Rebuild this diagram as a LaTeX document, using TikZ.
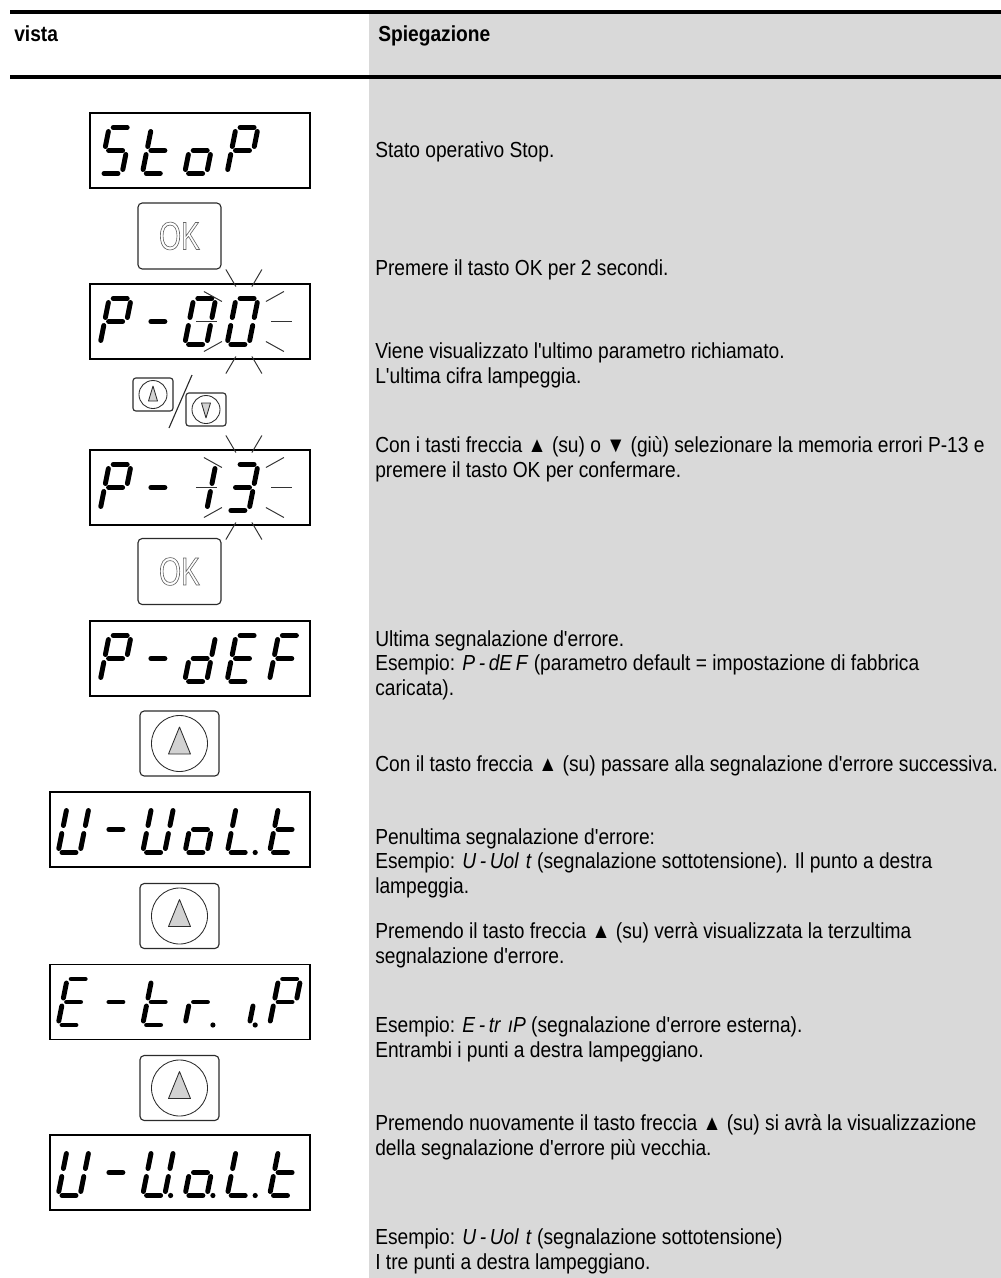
\documentclass[tikz,border=0pt]{standalone}
\usepackage{fontspec}
\setmainfont{Liberation Sans}[FakeStretch=0.88, Ligatures=TeXOff]
\newfontfamily\keyfont{Liberation Sans}[FakeStretch=0.72]
\usetikzlibrary{positioning}
\definecolor{colgray}{HTML}{D9D9D9}
\definecolor{tipgray}{HTML}{D2D2D2}
\definecolor{keyline}{HTML}{2B2B2B}
\definecolor{raygray}{HTML}{333333}

% seven-segment bars, local cell 0..22 wide, 0..46 high
\def\segA{4/46/18/46}
\def\segB{22/42/22/27}
\def\segC{22/19/22/4}
\def\segD{4/0/18/0}
\def\segE{0/4/0/19}
\def\segF{0/27/0/42}
\def\segG{4/23/18/23}

% characters as lists of bars
\newcommand{\defchar}[2]{\expandafter\def\csname lcd#1\endcsname{#2}}
\defchar{S}{A,F,G,C,D}
\defchar{t}{F,E,G,D}
\defchar{o}{G,C,D,E}
\defchar{P}{A,B,F,G,E}
\defchar{-}{G}
\defchar{0}{A,B,C,D,E,F}
\defchar{1}{B,C}
\defchar{3}{A,B,G,C,D}
\defchar{d}{B,C,D,E,G}
\defchar{E}{A,F,G,E,D}
\defchar{F}{A,F,G,E}
\defchar{U}{F,E,D,C,B}
\defchar{L}{F,E,D}
\defchar{r}{E,G}
\defchar{i}{C}

\newcommand{\drawbar}[1]{\expandafter\drawbari#1\relax}
\def\drawbari#1/#2/#3/#4\relax{\draw[segbar] (#1,#2) -- (#3,#4);}
\newcommand{\segchar}[3]{%
  \edef\barlist{#3}%
  \begin{scope}[shift={(#1,#2)}, xslant=0.2]
    \foreach \br in \barlist {\expandafter\drawbar\csname seg\br\endcsname}
  \end{scope}}

% display: left x, centre y, first cell x, chars/cells
\newcommand{\lcdbox}[4]{%
  \draw[lcdframe] (#1,-#2+37.5) rectangle (310,-#2-37.5);
  \foreach \dc/\k in {#4} {\segchar{#3+42.3*\k}{-#2-23}{\csname lcd\dc\endcsname}}}

% blinking marks round a digit
\newcommand{\blink}[2]{%
  \foreach \xo/\yo/\xi/\yi in {18/52/8/35,-18/52/-8/35,18/-52/8/-35,-18/-52/-8/-35,
      40/30/22/20,-40/30/-22/20,40/-30/22/-20,-40/-30/-22/-20,48/0/27/0,-48/0/-27/0}
    \draw[ray] (#1+\xo,-#2+\yo) -- (#1+\xi,-#2+\yi);}

\newcommand{\hollow}[1]{\special{pdf:literal direct 1 Tr 0.45 w}#1\special{pdf:literal direct 0 Tr}}

% keys: name, centre x, centre y
\newcommand{\okkey}[3]{%
  \draw[keyframe] (#2-41.5,-#3+33) rectangle (#2+41.5,-#3-33);
  \node[oklabel] (#1) at (#2,-#3) {\hollow{OK}};}
\newcommand{\upkey}[3]{%
  \draw[keyframe] (#2-39.5,-#3+32.5) rectangle (#2+39.5,-#3-32.5);
  \node[keyring, minimum size=1.4cm] (#1) at (#2,-#3) {};
  \draw[tip] (#2,-#3+16.5) -- (#2-11,-#3-10.5) -- (#2+11,-#3-10.5) -- cycle;}

\newcommand{\segtxt}[1]{\textit{#1}}

\begin{document}
\begin{tikzpicture}[x=0.025cm, y=0.025cm,
  txt/.style={anchor=base west, inner sep=0pt, align=left, font=\fontsize{15.5}{17.1}\selectfont},
  head/.style={anchor=base west, inner sep=0pt, font=\fontsize{15.5}{17.1}\selectfont\bfseries},
  hrule/.style={line width=2.4pt},
  lcdframe/.style={draw=black, line width=0.9pt},
  segbar/.style={line width=3.5pt, line cap=round},
  ray/.style={raygray, line width=0.7pt},
  keyframe/.style={keyline, line width=0.8pt, rounded corners=3pt},
  keyring/.style={circle, draw=keyline, line width=0.6pt, inner sep=0pt},
  tip/.style={draw=keyline, fill=tipgray, line width=0.6pt, line join=round},
  oklabel/.style={inner sep=0pt, text=black!60, font=\keyfont\fontsize{28}{28}\selectfont}]

\useasboundingbox (0,0) rectangle (1001,-1278);

% Background of the explanation column
\fill[colgray] (369,-12) rectangle (1001,-1278);

% Header
\draw[hrule] (10,-12) -- (1001,-12);
\draw[hrule] (10,-77) -- (1001,-77);
\node[head] (hview) at (14,-41) {vista};
\node[head] (hexpl) at (378,-41) {Spiegazione};

% --- Column 1: displays and keys ---
\lcdbox{90}{150.5}{100}{S/0,t/1,o/2,P/3}
\okkey{ok1}{179.5}{236}

\lcdbox{90}{321.5}{100}{P/0,-/1,0/2,0/3}
\blink{243.9}{321.5}

% up / down pair
\draw[keyframe, rounded corners=2pt] (133,-378) rectangle (173,-411);
\node[keyring, minimum size=0.7cm] (kup) at (153,-394.5) {};
\draw[tip] (153,-386) -- (148.5,-401) -- (157.5,-401) -- cycle;
\draw[keyframe, rounded corners=2pt] (186,-393) rectangle (226,-426);
\node[keyring, minimum size=0.7cm] (kdown) at (206,-409.5) {};
\draw[tip] (206,-418) -- (201.5,-403) -- (210.5,-403) -- cycle;
\draw[keyline, line width=0.8pt] (192,-375) -- (169,-428);

\lcdbox{90}{487.5}{100}{P/0,-/1,1/2,3/3}
\blink{243.9}{487.5}
\okkey{ok2}{179.5}{571.5}

\lcdbox{90}{658.5}{100}{P/0,-/1,d/2,E/3,F/4}
\upkey{up1}{179.5}{743.5}

\lcdbox{50}{829.5}{58}{U/0,-/1,U/2,o/3,L/4,t/5}
\foreach \k in {4} \fill (58+42.3*\k+28,-829.5-23) circle (2.6);
\upkey{up2}{179.5}{916}

\lcdbox{50}{1002}{58}{E/0,-/1,t/2,r/3,i/4,P/5}
\foreach \k in {3,4} \fill (58+42.3*\k+28,-1002-23) circle (2.6);
\upkey{up3}{179.5}{1088}

\lcdbox{50}{1172.5}{58}{U/0,-/1,U/2,o/3,L/4,t/5}
\foreach \k in {2,3,4} \fill (58+42.3*\k+28,-1172.5-23) circle (2.6);

% --- Column 2: explanations (anchor = baseline of last line) ---
\node[txt] (t1) at (375,-157) {Stato operativo Stop.};
\node[txt] (t2) at (375,-275) {Premere il tasto OK per 2 secondi.};
\node[txt] (t3) at (375,-383) {Viene visualizzato l'ultimo parametro richiamato.\\L'ultima cifra lampeggia.};
\node[txt] (t4) at (375,-477) {Con i tasti freccia ▲ (su) o ▼ (giù) selezionare la memoria errori P-13 e\\premere il tasto OK per confermare.};
\node[txt] (t5) at (375,-695) {Ultima segnalazione d'errore.\\Esempio: \segtxt{P\,-\,dE\,F} (parametro default = impostazione di fabbrica\\caricata).};
\node[txt] (t6) at (375,-771) {Con il tasto freccia ▲ (su) passare alla segnalazione d'errore successiva.};
\node[txt] (t7) at (375,-893) {Penultima segnalazione d'errore:\\Esempio: \segtxt{U\,-\,Uol\,\,t} (segnalazione sottotensione). Il punto a destra\\lampeggia.};
\node[txt] (t8) at (375,-963) {Premendo il tasto freccia ▲ (su) verrà visualizzata la terzultima\\segnalazione d'errore.};
\node[txt] (t9) at (375,-1057) {Esempio: \segtxt{E\,-\,tr\,\,\i P} (segnalazione d'errore esterna).\\Entrambi i punti a destra lampeggiano.};
\node[txt] (t10) at (375,-1155) {Premendo nuovamente il tasto freccia ▲ (su) si avrà la visualizzazione\\della segnalazione d'errore più vecchia.};
\node[txt] (t11) at (375,-1269) {Esempio: \segtxt{U\,-\,Uol\,\,t} (segnalazione sottotensione)\\I tre punti a destra lampeggiano.};

\end{tikzpicture}
\end{document}
